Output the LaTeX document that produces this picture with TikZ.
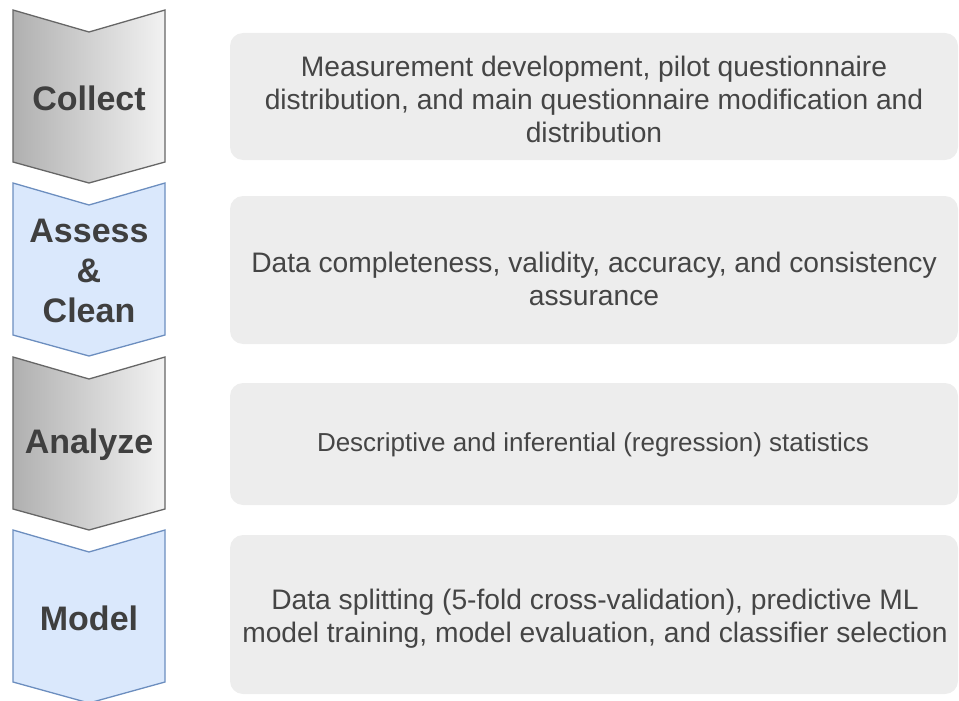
\documentclass[tikz,border=0pt]{standalone}
\usepackage{fontspec}
\setmainfont{Liberation Sans}
\definecolor{inktext}{HTML}{454545}
\definecolor{stagetext}{HTML}{3F3F3F}
\definecolor{greyedge}{HTML}{666666}
\definecolor{greydark}{HTML}{B0B0B0}
\definecolor{greylight}{HTML}{F2F2F2}
\definecolor{blueedge}{HTML}{6C8EBF}
\definecolor{bluefill}{HTML}{DAE8FC}
\definecolor{panelfill}{HTML}{EDEDED}
\tikzset{
  stagelabel/.style={text=stagetext, align=center,
    font=\fontsize{34}{40}\selectfont\bfseries},
  panel/.style={fill=panelfill, rounded corners=13pt},
  paneltext/.style={text=inktext, align=center,
    font=\fontsize{28.2}{33}\selectfont},
  smallpaneltext/.style={paneltext, font=\fontsize{26}{31}\selectfont},
  greystage/.style={left color=greydark, right color=greylight},
  greyline/.style={draw=greyedge, line width=1.3pt, line join=miter},
  bluestage/.style={fill=bluefill, draw=blueedge, line width=1.3pt, line join=miter},
}
% chevron outline with its top edge at y = #1
\newcommand{\chevronpath}[1]{(13,#1) -- (89,#1+22) -- (165,#1) -- (165,#1+152) -- (89,#1+173) -- (13,#1+152) -- cycle}
\begin{document}
\begin{tikzpicture}[x=1pt, y=-1pt]
  \useasboundingbox (0,0) rectangle (959,701);

  % process stages
  \shade[greystage] \chevronpath{10};
  \draw[greyline] \chevronpath{10};
  \path[bluestage] \chevronpath{183};
  \shade[greystage] \chevronpath{357};
  \draw[greyline] \chevronpath{357};
  \path[bluestage] \chevronpath{530};

  \node[stagelabel] (collect) at (89,98) {Collect};
  \node[stagelabel] (assess)  at (89,271) {Assess\\\&\\Clean};
  \node[stagelabel] (analyze) at (89,445) {Analyze};
  \node[stagelabel] (model)   at (89,618) {Model};

  % description panels
  \path[panel] (230,33)  rectangle (958,160);
  \path[panel] (230,196) rectangle (958,344);
  \path[panel] (230,383) rectangle (958,505);
  \path[panel] (230,535) rectangle (958,694);

  \node[paneltext] (collectinfo) at (594,99)
    {Measurement development, pilot questionnaire\\distribution, and main questionnaire modification and\\distribution};
  \node[paneltext] (assessinfo) at (594,279)
    {Data completeness, validity, accuracy, and consistency\\assurance};
  \node[smallpaneltext] (analyzeinfo) at (593,445)
    {Descriptive and inferential (regression) statistics};
  \node[paneltext] (modelinfo) at (595,619)
    {Data splitting (5-fold cross-validation), predictive ML\\model training, model evaluation, and classifier selection};
\end{tikzpicture}
\end{document}
